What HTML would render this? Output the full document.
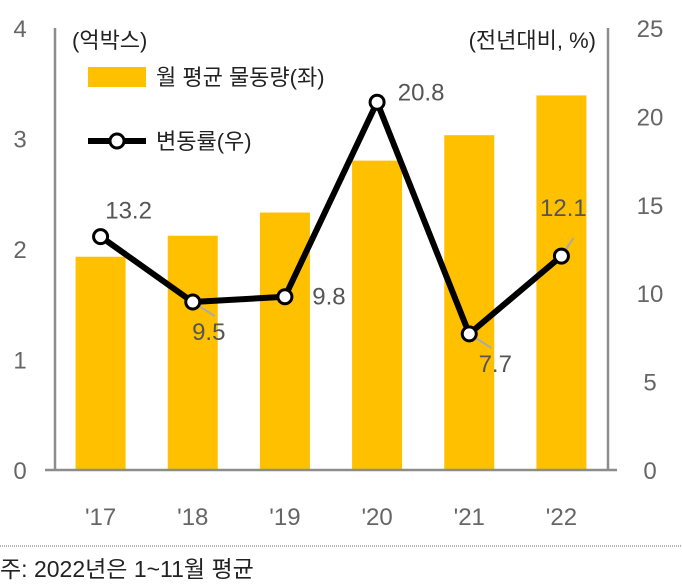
<!DOCTYPE html>
<html><head><meta charset="utf-8"><style>
body{margin:0;background:#fff;}
svg text{font-family:"Liberation Sans","Noto Sans CJK KR",sans-serif;}
</style></head><body>
<svg width="682" height="583">
<g id="plot"></g>
<line x1="0" y1="546" x2="682" y2="546" stroke="#666" stroke-dasharray="1,1"/>
<text x="0" y="577" font-size="23" fill="#222">주: 2022년은 1~11월 평균</text>
<text x="72" y="48" font-size="22" fill="#222">(억박스)</text>
<text x="596" y="48" font-size="22" fill="#222" text-anchor="end">(전년대비, %)</text>
<rect x="88" y="67" width="58" height="20" fill="#FFC000"/>
<text x="156" y="85" font-size="22" fill="#222">월 평균 물동량(좌)</text>
<line x1="88" y1="141" x2="146" y2="141" stroke="#000" stroke-width="6"/>
<circle cx="117" cy="141" r="7" fill="#fff" stroke="#000" stroke-width="3"/>
<text x="156" y="149" font-size="22" fill="#222">변동률(우)</text>
</svg>
<script>
const categories=["'17","'18","'19","'20","'21","'22"];
const volumes=[1.93,2.12,2.33,2.8,3.03,3.39];
const changes=[13.2,9.5,9.8,20.8,7.7,12.1];
const leftTicks=[0,1,2,3,4];
const rightTicks=[0,5,10,15,20,25];
const NS="http://www.w3.org/2000/svg";
const g=document.getElementById('plot');
const x0=55,x1=608,yTop=28,yBot=470;
const yL=v=>yBot-(v/4)*(yBot-yTop);
const yR=v=>yBot-(v/25)*(yBot-yTop);
const step=(x1-x0)/categories.length;
const xC=i=>x0+step*(i+0.5)-0.5;
function mk(t,a){const e=document.createElementNS(NS,t);for(const k in a)e.setAttribute(k,a[k]);g.appendChild(e);return e;}
volumes.forEach((v,i)=>{
 const r=mk('rect',{x:xC(i)-25,y:yL(v),width:50,height:yBot-yL(v),fill:'#FFC000'});
 
 
});
let ax=mk('line',{x1:x0,y1:yTop,x2:x0,y2:yBot,stroke:'#8c8c8c','stroke-width':2.5});


ax=mk('line',{x1:x1,y1:yTop,x2:x1,y2:yBot,stroke:'#8c8c8c','stroke-width':2.5});


ax=mk('line',{x1:45,y1:yBot,x2:617,y2:yBot,stroke:'#8c8c8c','stroke-width':2.5});


leftTicks.forEach(t=>{
 const e=mk('text',{x:20,y:yL(t)+9,'font-size':24,fill:'#666','text-anchor':'middle'});e.textContent=t;
 
 
});
rightTicks.forEach(t=>{
 const e=mk('text',{x:650,y:yR(t)+9,'font-size':24,fill:'#666','text-anchor':'middle'});e.textContent=t;
 
 
});
categories.forEach((c,i)=>{
 const e=mk('text',{x:xC(i),y:525,'font-size':24,fill:'#666','text-anchor':'middle'});e.textContent=c;
 
 
});
const pts=changes.map((v,i)=>xC(i)+','+yR(v)).join(' ');
const pl=mk('polyline',{points:pts,fill:'none',stroke:'#000','stroke-width':6,'stroke-linejoin':'round'});


const off=[[0,-18,0],[0,38,1],[44,8,0],[44,-2,0],[0,38,1],[-10,-40,1]];
changes.forEach((v,i)=>{
 const o=off[i];
 if(o[2]){const l=mk('line',{x1:xC(i),y1:yR(v),x2:xC(i)+(i==5?12:22),y2:yR(v)+(i==5?-18:14),stroke:'#aaa','stroke-width':2});
  
  }
 const c=mk('circle',{cx:xC(i),cy:yR(v),r:7,fill:'#fff',stroke:'#000','stroke-width':3});
 
 
 const t=mk('text',{x:xC(i)+o[0]+(i==0?28:i==1?16:i==4?26:i==5?12:0),y:yR(v)+o[1],'font-size':24,fill:'#555','text-anchor':'middle'});
 t.textContent=v.toFixed(1);
 
 
});
</script>
</body></html>
